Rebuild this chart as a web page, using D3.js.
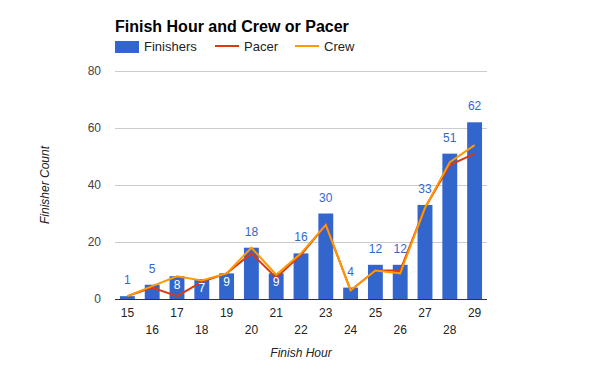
<!DOCTYPE html>
<html>
<head>
<meta charset="utf-8">
<script src="https://cdnjs.cloudflare.com/ajax/libs/d3/7.8.5/d3.min.js"></script>
<style>
  body { margin: 0; background: #fff; }
  svg text { font-family: Arial, "Liberation Sans", sans-serif; }
</style>
</head>
<body>
<div id="chart"></div>
<script>
// data
var hours = ["15","16","17","18","19","20","21","22","23","24","25","26","27","28","29"];
var finishers = [1, 5, 8, 7, 9, 18, 9, 16, 30, 4, 12, 12, 33, 51, 62];
var pacer = [1, 4, 1, 6, 9, 16, 7.5, 15.5, 26, 3, 10, 10, 32, 47, 51];
var crew = [1, 4.5, 8, 6.5, 9, 18, 8.5, 16, 26, 3, 10, 9, 32, 48, 54];
var yTicks = [0, 20, 40, 60, 80];
var insideLabels = ["17", "18", "19", "21"];

var width = 600, height = 371;
var margin = {left: 115, right: 113, top: 71, bottom: 72};

var svg = d3.select("#chart")
    .append("svg")
    .attr("width", width)
    .attr("height", height);

var x = d3.scaleBand()
    .domain(hours)
    .range([margin.left, width - margin.right])
    .paddingInner(0.4)
    .paddingOuter(0.2);

var y = d3.scaleLinear()
    .domain([0, 80])
    .range([height - margin.bottom, margin.top]);

// gridlines
svg.append("g")
    .selectAll("line")
    .data(yTicks)
    .join("line")
    .attr("x1", margin.left)
    .attr("x2", width - margin.right)
    .attr("y1", function(d){ return Math.round(y(d)) + 0.5; })
    .attr("y2", function(d){ return Math.round(y(d)) + 0.5; })
    .attr("stroke", "#cccccc")
    .attr("stroke-width", 1);

// y tick labels
svg.append("g")
    .selectAll("text")
    .data(yTicks)
    .join("text")
    .attr("x", margin.left - 14)
    .attr("y", function(d){ return y(d) + 4; })
    .attr("text-anchor", "end")
    .attr("font-size", 12)
    .attr("fill", "#444")
    .text(function(d){ return d; });

// bars
svg.append("g")
    .selectAll("rect")
    .data(finishers)
    .join("rect")
    .attr("x", function(d, i){ return x(hours[i]); })
    .attr("y", function(d){ return y(d); })
    .attr("width", x.bandwidth())
    .attr("height", function(d){ return y(0) - y(d); })
    .attr("fill", "#3366cc");

// baseline
svg.append("line")
    .attr("x1", margin.left)
    .attr("x2", width - margin.right)
    .attr("y1", Math.round(y(0)) + 0.5)
    .attr("y2", Math.round(y(0)) + 0.5)
    .attr("stroke", "#333")
    .attr("stroke-width", 1);

var line = d3.line()
    .x(function(d, i){ return x(hours[i]) + x.bandwidth() / 2; })
    .y(function(d){ return y(d); });

svg.append("path")
    .attr("d", line(pacer))
    .attr("fill", "none")
    .attr("stroke", "#dc3912")
    .attr("stroke-width", 2);

svg.append("path")
    .attr("d", line(crew))
    .attr("fill", "none")
    .attr("stroke", "#ff9900")
    .attr("stroke-width", 2);

// bar value labels
svg.append("g")
    .selectAll("text")
    .data(finishers)
    .join("text")
    .attr("x", function(d, i){ return x(hours[i]) + x.bandwidth() / 2; })
    .attr("y", function(d, i){
        return insideLabels.indexOf(hours[i]) >= 0 ? y(d) + 13 : y(d) - 12;
    })
    .attr("text-anchor", "middle")
    .attr("font-size", 12)
    .attr("fill", function(d, i){ return insideLabels.indexOf(hours[i]) >= 0 ? "#fff" : "#3366cc"; })
    .text(function(d){ return d; });

// x tick labels, staggered in two rows
svg.append("g")
    .selectAll("text")
    .data(hours)
    .join("text")
    .attr("x", function(d){ return x(d) + x.bandwidth() / 2; })
    .attr("y", function(d, i){ return i % 2 === 0 ? 317 : 334; })
    .attr("text-anchor", "middle")
    .attr("font-size", 12)
    .attr("fill", "#222")
    .text(function(d){ return d; });

// axis titles
svg.append("text")
    .attr("x", (margin.left + width - margin.right) / 2)
    .attr("y", 357)
    .attr("text-anchor", "middle")
    .attr("font-size", 12)
    .attr("font-style", "italic")
    .attr("fill", "#222")
    .text("Finish Hour");

svg.append("text")
    .attr("transform", "translate(49," + y(40) + ") rotate(-90)")
    .attr("text-anchor", "middle")
    .attr("font-size", 12)
    .attr("font-style", "italic")
    .attr("fill", "#222")
    .text("Finisher Count");

// title
svg.append("text")
    .attr("x", margin.left)
    .attr("y", 32)
    .attr("font-size", 16)
    .attr("font-weight", "bold")
    .attr("fill", "#000")
    .text("Finish Hour and Crew or Pacer");

// legend
var legend = svg.append("g");
legend.append("rect")
    .attr("x", 115).attr("y", 41)
    .attr("width", 24).attr("height", 12)
    .attr("fill", "#3366cc");
legend.append("text")
    .attr("x", 144).attr("y", 51)
    .attr("font-size", 13).attr("fill", "#222")
    .text("Finishers");
legend.append("line")
    .attr("x1", 215).attr("x2", 239).attr("y1", 46).attr("y2", 46)
    .attr("stroke", "#dc3912").attr("stroke-width", 2);
legend.append("text")
    .attr("x", 244).attr("y", 51)
    .attr("font-size", 13).attr("fill", "#222")
    .text("Pacer");
legend.append("line")
    .attr("x1", 295).attr("x2", 319).attr("y1", 46).attr("y2", 46)
    .attr("stroke", "#ff9900").attr("stroke-width", 2);
legend.append("text")
    .attr("x", 324).attr("y", 51)
    .attr("font-size", 13).attr("fill", "#222")
    .text("Crew");
</script>
</body>
</html>
